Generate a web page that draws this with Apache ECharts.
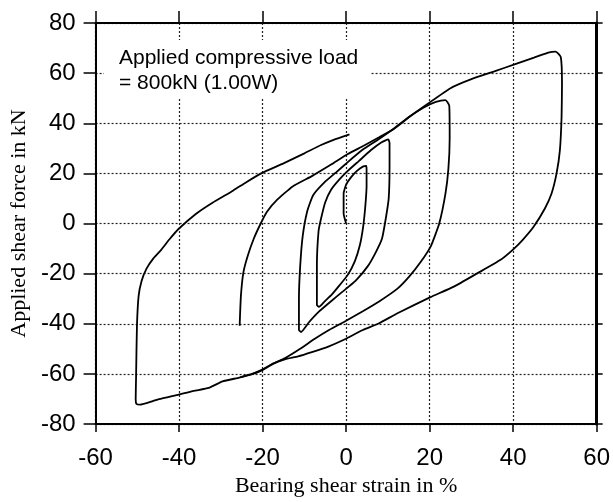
<!DOCTYPE html>
<html>
<head>
<meta charset="utf-8">
<script src="https://cdn.jsdelivr.net/npm/echarts@6/dist/echarts.min.js"></script>
<style>
html,body{margin:0;padding:0;background:#fff;}
#chart{width:613px;height:502px;}
</style>
</head>
<body>
<div id="chart"></div>
<script>
// Axis ticks
const strainTicks = [-60, -40, -20, 0, 20, 40, 60];
const forceTicks = [-80, -60, -40, -20, 0, 20, 40, 60, 80];

// Hysteresis branches: [strain %, force kN]
const initialLoading = [[0,0],[-0.6,4],[-0.6,12],[0,15.5],[1.2,18.5],[2.6,21],[4,22.7],[4.8,23]];
const unload5 = [[4.9,21.5],[4.9,15],[4.6,7],[4.1,-1],[3.3,-8.6],[2.1,-15],[0.4,-20.5],[-1.5,-24.5],[-3.4,-28.3],[-5.2,-31.2],[-6.5,-33.3]];
const reload5 = [[-7,-32.5],[-7,-17],[-6.6,-3],[-6,2],[-5,8.5],[-3.6,13.5],[-1.6,17.6],[0.4,21],[3.1,25],[5.9,29.2],[8.5,32.4],[10.1,33.6]];
const unload10 = [[10.4,32],[10.4,23],[10.2,10],[9.5,2],[8.6,-6],[7.1,-11.5],[5.2,-17],[2.3,-22.8],[-0.7,-27],[-3.6,-31],[-6.4,-35],[-9,-39.6],[-10.8,-43.3]];
const reload10 = [[-11.3,-42.5],[-11.3,-30],[-11,-17],[-10.4,-5],[-9.3,5],[-7.9,11.3],[-5.2,16.4],[-2.4,20.4],[0.4,24.5],[4,29.5],[7.7,33.5],[11.2,37.6],[14.8,42.2],[18.5,46.2],[21.5,48.5],[23.8,49.2]];
const unload25 = [[24.7,47],[24.8,34],[24.5,22],[23.8,12],[22.3,0],[20.3,-9],[17.8,-15.5],[15.2,-21],[12.3,-26],[8,-31],[4,-35],[0,-38.8],[-4,-42.4],[-7.5,-46],[-11,-50],[-14.7,-53.8],[-17.4,-55.8],[-20.2,-58.4],[-22.5,-60],[-25.3,-61.3]];
const reload25 = [[-25.5,-40.8],[-25.2,-29],[-24.6,-19.5],[-23.5,-12.6],[-22.1,-6],[-20.6,-0.5],[-19,4.6],[-16.5,9.5],[-12.8,14.8],[-8.1,19],[-3.5,23.6],[0.3,27.6],[4.2,31],[7.9,34.4],[11.5,37.8],[15.5,43],[19.4,47.6],[25,54],[30,57.6],[35.5,60.7],[40.5,63.6],[45,66.2],[48.4,68.2],[50.2,68.6]];
const unload50 = [[51.4,66.5],[51.7,56],[51.6,42.6],[51.2,29.3],[50.4,20],[49.2,12],[47.6,6],[44.9,-1.3],[42.3,-6.5],[40.1,-10.2],[36.9,-14.6],[31.4,-19.9],[25.8,-25.2],[20.2,-29.4],[12.3,-35.8],[7.9,-39.8],[4,-42.5],[-0.4,-46.3],[-4.4,-49.2],[-8,-51.2],[-11.5,-53],[-14.7,-54.2],[-17.4,-55.9],[-20.2,-58.6],[-22.5,-60.1],[-25.6,-61.5],[-29.6,-63],[-32.9,-65.6],[-36.5,-66.8],[-40.1,-68.3],[-44.8,-70.1],[-47.6,-71.6],[-49.3,-72.3],[-50.2,-72]];
const reload50 = [[-50.4,-70],[-50.3,-61],[-50.1,-41.2],[-49.7,-29],[-49,-23],[-47.8,-18],[-46.2,-14],[-44.3,-10.5],[-42.3,-6.3],[-40.2,-2.3],[-36,3.8],[-32,8.3],[-27,13.2],[-24,16.4],[-20.2,20.1],[-15,24],[-10,28],[-6,31.3],[-3,33.4],[0.8,35.6]];

const pathOne = [].concat(initialLoading, unload5, reload5, unload10, reload10, unload25);
const pathTwo = [].concat(reload25, unload50, reload50);

const chart = echarts.init(document.getElementById('chart'), null, {renderer: 'canvas'});
const tickFont = {fontFamily: 'Liberation Sans', fontSize: 24, color: '#000'};
const gridLine = {show: true, lineStyle: {color: '#222', width: 1.2, type: [2, 2]}};

chart.setOption({
  animation: false,
  backgroundColor: '#fff',
  grid: {left: 93, right: 16, top: 23, bottom: 78},
  xAxis: [{
    type: 'value', min: strainTicks[0], max: strainTicks[strainTicks.length - 1], interval: 20,
    position: 'bottom',
    name: 'Bearing shear strain in %', nameLocation: 'middle', nameGap: 50,
    nameTextStyle: {fontFamily: 'Liberation Serif', fontSize: 22, color: '#000'},
    axisLine: {onZero: false, lineStyle: {color: '#000', width: 2}},
    axisTick: {inside: false, length: 8, lineStyle: {color: '#000', width: 1.5}},
    axisLabel: Object.assign({margin: 22}, tickFont),
    splitLine: gridLine
  }, {
    type: 'value', min: strainTicks[0], max: strainTicks[strainTicks.length - 1], interval: 20,
    position: 'top',
    axisLine: {onZero: false, lineStyle: {color: '#000', width: 2}},
    axisTick: {inside: false, length: 12, lineStyle: {color: '#000', width: 1.5}},
    axisLabel: {show: false},
    splitLine: {show: false}
  }],
  yAxis: [{
    type: 'value', min: forceTicks[0], max: forceTicks[forceTicks.length - 1], interval: 20,
    position: 'left',
    name: 'Applied shear force in kN', nameLocation: 'middle', nameGap: 47, nameRotate: 90,
    nameTextStyle: {fontFamily: 'Liberation Serif', fontSize: 22, color: '#000'},
    axisLine: {onZero: false, lineStyle: {color: '#000', width: 2}},
    axisTick: {inside: false, length: 12, lineStyle: {color: '#000', width: 1.5}},
    axisLabel: Object.assign({margin: 20}, tickFont),
    splitLine: gridLine
  }, {
    type: 'value', min: forceTicks[0], max: forceTicks[forceTicks.length - 1], interval: 20,
    position: 'right',
    axisLine: {onZero: false, lineStyle: {color: '#000', width: 3}},
    axisTick: {inside: false, length: 6, lineStyle: {color: '#000', width: 1.5}},
    axisLabel: {show: false},
    splitLine: {show: false}
  }],
  graphic: [{
    type: 'rect', z: 1, silent: true,
    shape: {x: 104, y: 40, width: 267, height: 58},
    style: {fill: '#fff'}
  }, {
    type: 'text', z: 10, left: 119, top: 46,
    style: {
      text: 'Applied compressive load\n= 800kN (1.00W)',
      fontFamily: 'Liberation Sans', fontSize: 21, lineHeight: 25, fill: '#000'
    }
  }],
  series: [{
    type: 'line', name: 'path1', data: pathOne, showSymbol: false, smooth: 0.15, z: 3,
    lineStyle: {color: '#000', width: 1.8}
  }, {
    type: 'line', name: 'path2', data: pathTwo, showSymbol: false, smooth: 0.15, z: 3,
    lineStyle: {color: '#000', width: 1.8}
  }]
});
</script>
</body>
</html>
